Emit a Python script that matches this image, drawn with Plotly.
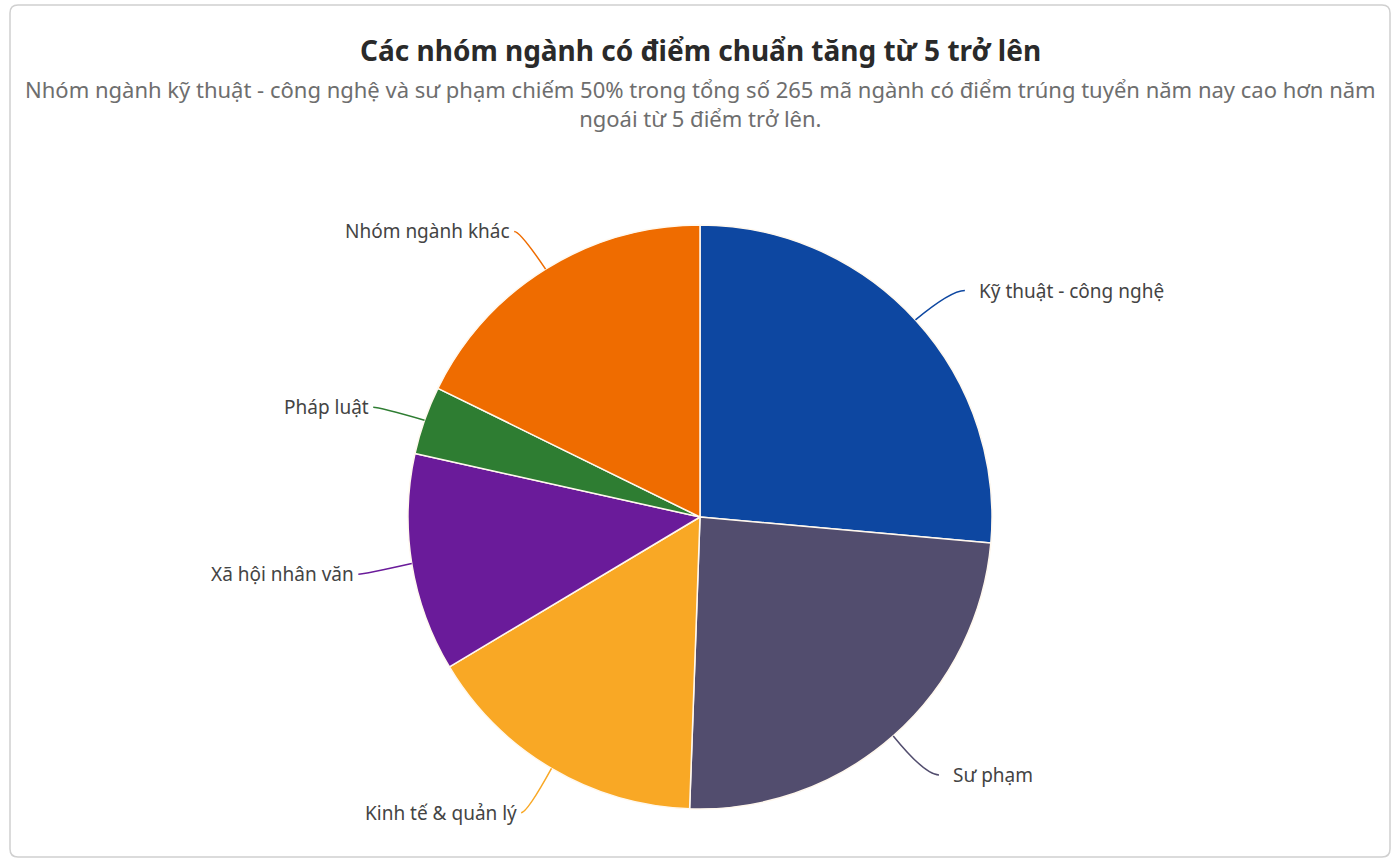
import math
import plotly.graph_objects as go

# Dữ liệu: số mã ngành có điểm chuẩn tăng từ 5 điểm trở lên
nhom_nganh = ['Kỹ thuật - công nghệ', 'Sư phạm', 'Kinh tế & quản lý',
              'Xã hội nhân văn', 'Pháp luật', 'Nhóm ngành khác']
so_ma_nganh = [70, 64, 42, 32, 10, 47]
mau = ['#0D47A1', '#524D6E', '#F9A825', '#6A1B9A', '#2E7D32', '#EF6C00']

W, H = 1400, 864
M_TOP, M_BOT = 225, 55

# tâm và bán kính của hình tròn (pixel), theo vùng vẽ
cx = W / 2
cy = M_TOP + (H - M_TOP - M_BOT) / 2
r = (H - M_TOP - M_BOT) / 2
plot_h = H - M_TOP - M_BOT


def px(x):
    return x / W


def py(y):
    return (H - M_BOT - y) / plot_h


fig = go.Figure(go.Pie(
    labels=nhom_nganh,
    values=so_ma_nganh,
    sort=False,
    direction='clockwise',
    rotation=0,
    marker=dict(colors=mau, line=dict(color='#FFF8EE', width=1.5)),
    textinfo='none',
    hoverinfo='label+value+percent',
    domain=dict(x=[0, 1], y=[0, 1]),
))

# nhãn và đường nối kiểu Highcharts
shapes = []
annotations = []
tong = sum(so_ma_nganh)
cum = 0
for ten, v, c in zip(nhom_nganh, so_ma_nganh, mau):
    mid = (cum + v / 2) / tong * 2 * math.pi
    cum += v
    s, co = math.sin(mid), math.cos(mid)
    R2 = r + 48
    x0, y0 = cx + r * s, cy - r * co
    yl = cy - R2 * co + 3
    xc = cx + R2 * s
    side = 1 if s >= 0 else -1
    xe = xc + (14 if side > 0 else -6)
    shapes.append(dict(
        type='path', xref='paper', yref='paper',
        path=f'M {px(x0)},{py(y0)} Q {px(xc)},{py(yl)} {px(xe)},{py(yl)}',
        line=dict(color=c, width=1.5),
    ))
    annotations.append(dict(
        x=px(xe + (12 if side > 0 else -2)), y=py(yl), xref='paper', yref='paper',
        text=ten, showarrow=False,
        xanchor='left' if side > 0 else 'right', yanchor='middle',
        font=dict(size=19, color='#444444'),
    ))

# tiêu đề và phụ đề
annotations.append(dict(
    x=0.5, y=py(50), xref='paper', yref='paper', showarrow=False,
    text='<b>Các nhóm ngành có điểm chuẩn tăng từ 5 trở lên</b>',
    font=dict(size=28, color='#2A2A2A'), xanchor='center', yanchor='middle',
))
annotations.append(dict(
    x=0.5, y=py(104), xref='paper', yref='paper', showarrow=False,
    text='Nhóm ngành kỹ thuật - công nghệ và sư phạm chiếm 50% trong tổng số 265 '
         'mã ngành có điểm trúng tuyển năm nay cao hơn năm<br>ngoái từ 5 điểm trở lên.',
    font=dict(size=22, color='#6E6E6E'), xanchor='center', yanchor='middle',
    align='center',
))

# khung viền bo góc
x1, y1, x2, y2, k = 10, 5, 1390, 857, 8
shapes.append(dict(
    type='path', xref='paper', yref='paper',
    path=(f'M {px(x1 + k)},{py(y1)} L {px(x2 - k)},{py(y1)} '
          f'Q {px(x2)},{py(y1)} {px(x2)},{py(y1 + k)} L {px(x2)},{py(y2 - k)} '
          f'Q {px(x2)},{py(y2)} {px(x2 - k)},{py(y2)} L {px(x1 + k)},{py(y2)} '
          f'Q {px(x1)},{py(y2)} {px(x1)},{py(y2 - k)} L {px(x1)},{py(y1 + k)} '
          f'Q {px(x1)},{py(y1)} {px(x1 + k)},{py(y1)} Z'),
    line=dict(color='#D0D0D0', width=1.5),
))

fig.update_layout(
    width=W, height=H,
    margin=dict(l=0, r=0, t=M_TOP, b=M_BOT),
    paper_bgcolor='#FFFFFF',
    font=dict(family='Noto Sans, Open Sans, sans-serif'),
    showlegend=False,
    shapes=shapes,
    annotations=annotations,
)

fig.write_html('out.html',
               config={'displayModeBar': False},
               post_script="document.body.style.margin='0';"
                           "document.body.style.overflow='hidden';")
